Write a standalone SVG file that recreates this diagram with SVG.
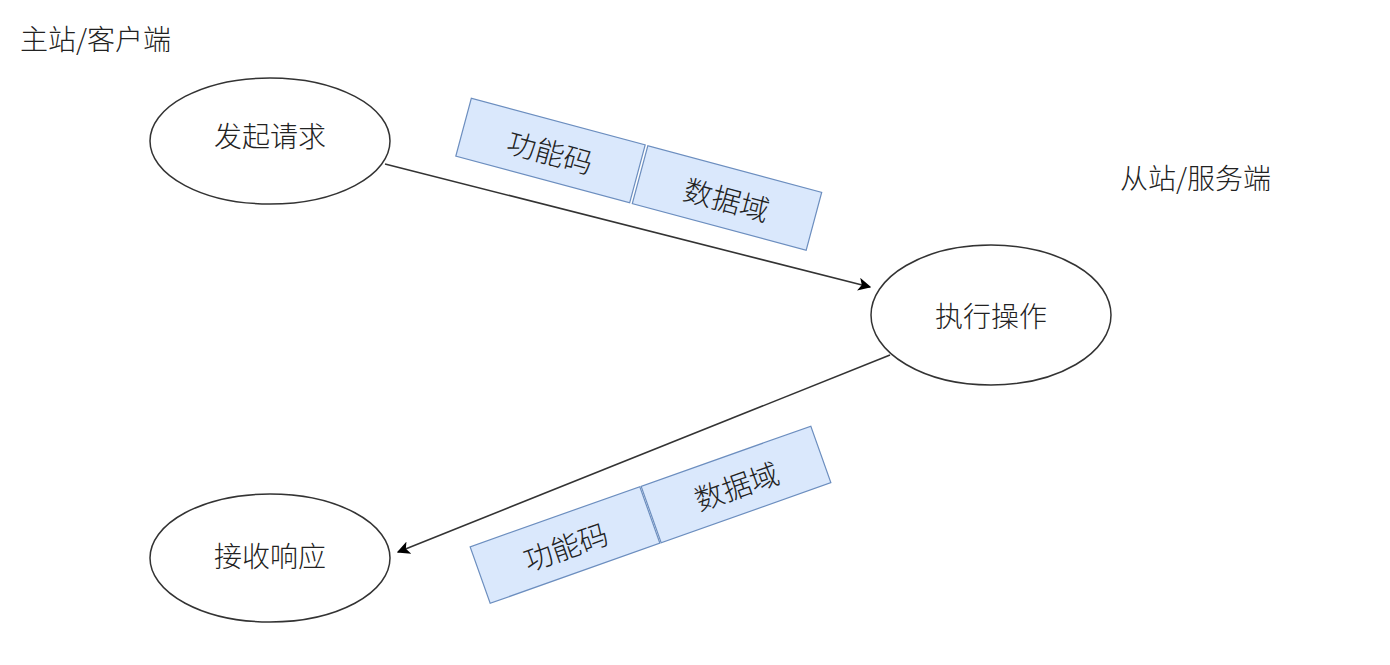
<svg xmlns="http://www.w3.org/2000/svg" width="1390" height="665" viewBox="0 0 1390 665">
<defs>
<style>
.node{fill:#fff;stroke:#333;stroke-width:1.5}
.lbl{fill:#dae8fc;stroke:#6c8ebf;stroke-width:1.2}
text{font-family:"Noto Sans CJK SC","Noto Sans",sans-serif;fill:#222;font-size:28px;font-weight:300}
.c{text-anchor:middle;dominant-baseline:central}
.big{font-size:29px}
.edge{stroke:#333;stroke-width:1.6;fill:none}
</style>
<marker id="arr" viewBox="0 0 10 10" refX="9" refY="5" markerWidth="13" markerHeight="13" markerUnits="userSpaceOnUse" orient="auto">
<path d="M0,0 L10,5 L0,10 L2.5,5 Z" fill="#000"/>
</marker>
</defs>
<rect width="1390" height="665" fill="#fff"/>
<text x="20" y="38" dominant-baseline="central" font-size="28">主站/客户端</text>
<text x="1120" y="177" dominant-baseline="central" font-size="28">从站/服务端</text>
<g id="edges">
<line class="edge" x1="385" y1="164" x2="870" y2="287" marker-end="url(#arr)"/>
<line class="edge" x1="890" y1="355" x2="398" y2="552" marker-end="url(#arr)"/>
</g>
<g id="n1"><ellipse class="node" cx="270" cy="141" rx="120" ry="63"/><text class="c" x="270" y="135">发起请求</text></g>
<g id="n2"><ellipse class="node" cx="991" cy="315" rx="120" ry="70"/><text class="c" x="991" y="315">执行操作</text></g>
<g id="n3"><ellipse class="node" cx="270" cy="558" rx="120" ry="64"/><text class="c" x="270" y="555">接收响应</text></g>
<g id="b1" transform="translate(550.5,150.5) rotate(15)"><rect class="lbl" x="-90" y="-30" width="180" height="60"/><text class="c big" x="0" y="0">功能码</text></g>
<g id="b2" transform="translate(727,198) rotate(15)"><rect class="lbl" x="-90" y="-30" width="180" height="60"/><text class="c big" x="0" y="0">数据域</text></g>
<g id="b3" transform="translate(565,545) rotate(-19.5)"><rect class="lbl" x="-90" y="-30" width="180" height="60"/><text class="c big" x="0" y="0">功能码</text></g>
<g id="b4" transform="translate(736,484.5) rotate(-19.5)"><rect class="lbl" x="-90" y="-30" width="180" height="60"/><text class="c big" x="0" y="0">数据域</text></g>
</svg>
